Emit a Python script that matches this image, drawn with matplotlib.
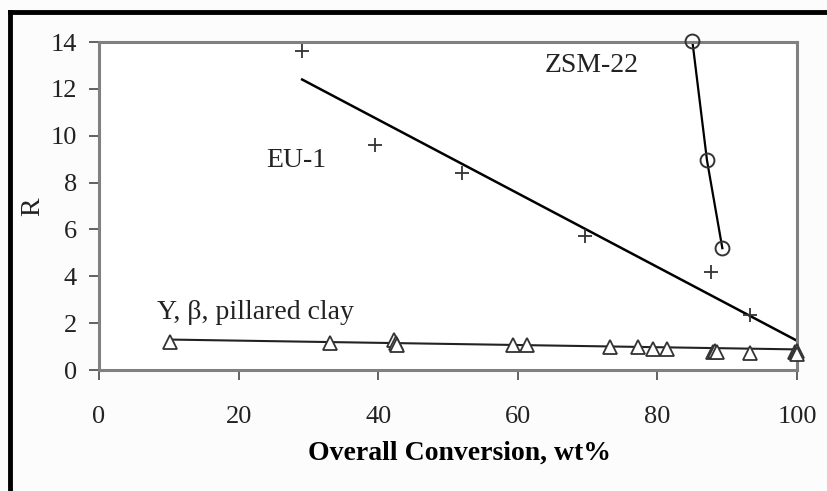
import numpy as np
import matplotlib
matplotlib.use("Agg")
import matplotlib.pyplot as plt
from matplotlib.lines import Line2D

# R vs overall conversion for the three catalyst groups
eu1_x = [29.1, 39.5, 52.0, 69.6, 87.7, 93.3]
eu1_y = [13.6, 9.6, 8.4, 5.7, 4.2, 2.35]
eu1_fit_x = [29.1, 100.0]
eu1_fit_y = [12.4, 1.25]

zsm_x = [85.0, 87.1, 89.3]
zsm_y = [14.05, 8.95, 5.2]

clay_x = [10.2, 33.1, 42.2, 42.5, 42.7, 59.3, 61.3, 73.2, 77.2, 79.4, 81.4,
          88.0, 88.3, 88.6, 93.3, 99.7, 100.0, 100.0]
clay_y = [1.2, 1.15, 1.28, 1.15, 1.08, 1.07, 1.07, 0.98, 0.98, 0.9, 0.9,
          0.77, 0.8, 0.77, 0.72, 0.75, 0.8, 0.7]
clay_fit_x = [10.2, 100.0]
clay_fit_y = [1.3, 0.88]

xticks = [0, 20, 40, 60, 80, 100]
yticks = [0, 2, 4, 6, 8, 10, 12, 14]

plt.rcParams['font.family'] = ['Liberation Serif', 'DejaVu Serif']

fig = plt.figure(figsize=(8.28, 4.91), dpi=100, facecolor='#fcfcfc')
ax = fig.add_axes([0.1196, 0.2464, 0.843, 0.668])
ax.set_facecolor('white')

# outer frame (top and left edge)
fig.add_artist(Line2D([10 / 828, 10 / 828], [0, 1 - 12 / 491], transform=fig.transFigure,
                      color='black', lw=3.5, solid_capstyle='projecting'))
fig.add_artist(Line2D([10 / 828, 1], [1 - 12 / 491, 1 - 12 / 491], transform=fig.transFigure,
                      color='black', lw=3.5, solid_capstyle='projecting'))

ax.plot(eu1_fit_x, eu1_fit_y, color='black', lw=1.8, zorder=2)
ax.plot(eu1_x, eu1_y, ls='none', marker='+', ms=10, mew=1.3, color='#333333', zorder=3)

ax.plot(zsm_x, zsm_y, color='black', lw=1.6, zorder=2)
ax.plot(zsm_x, zsm_y, ls='none', marker='o', ms=10, mew=1.4, mfc='none', mec='#333333',
        zorder=3, clip_on=False)

ax.plot(clay_fit_x, clay_fit_y, color='#222222', lw=1.5, zorder=2)
ax.plot(clay_x, clay_y, ls='none', marker='^', ms=10, mew=1.3, mfc='white', mec='#333333',
        zorder=3, clip_on=False)

ax.text(70.6, 13.0, 'ZSM-22', ha='center', va='center', fontsize=20, color='#222222')
ax.text(28.3, 8.95, 'EU-1', ha='center', va='center', fontsize=20, color='#222222')
ax.text(8.3, 2.45, 'Y, β, pillared clay', ha='left', va='center', fontsize=20, color='#222222')

ax.set_xlim(0, 100)
ax.set_ylim(0, 14)
ax.set_xticks(xticks)
ax.set_yticks(yticks)
ax.tick_params(axis='both', direction='out', length=7, width=1.3, color='#555555',
               labelsize=19, labelcolor='#222222')
ax.tick_params(axis='x', pad=19)
ax.tick_params(axis='y', pad=9)
for s in ax.spines.values():
    s.set_color('#808080')
    s.set_linewidth(2.2)

ax.set_xlabel('Overall Conversion, wt%', fontsize=20, fontweight='bold', va='center')
ax.xaxis.set_label_coords(0.517, -0.253)
ax.set_ylabel('R', fontsize=20, color='#222222', va='center')
ax.yaxis.set_label_coords(-0.0946, 0.497)

fig.savefig('out.png', dpi=100, facecolor=fig.get_facecolor())
